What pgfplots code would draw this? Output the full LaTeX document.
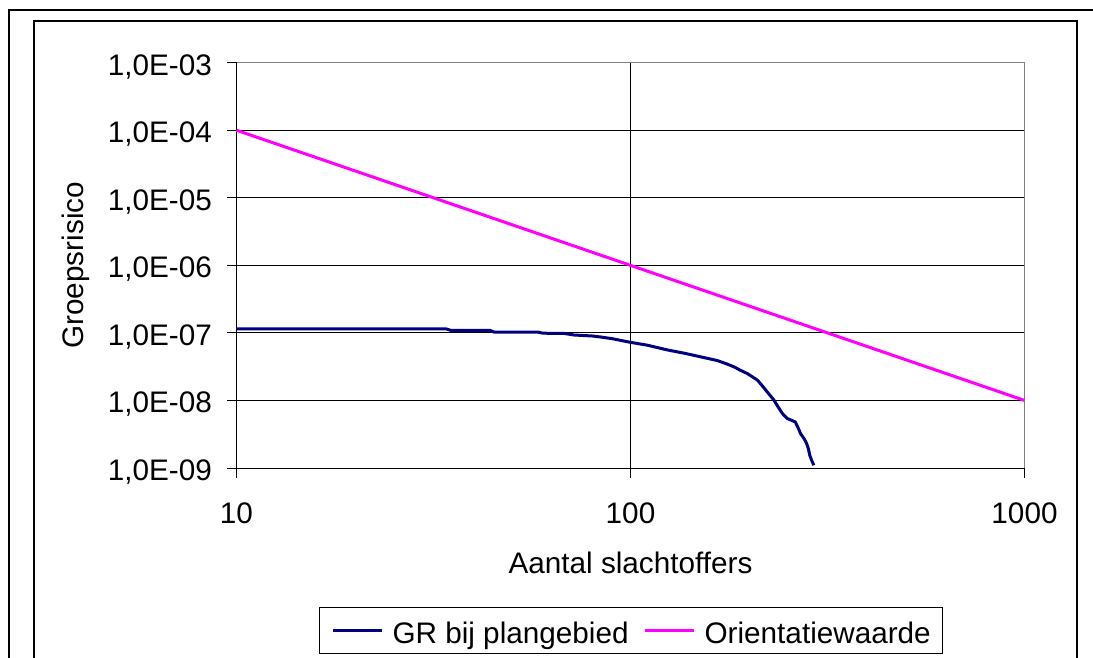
\documentclass[border=0pt]{standalone}
\usepackage{fontspec}
\setmainfont{Liberation Sans}
\usepackage{pgfplots}
\pgfplotsset{compat=1.18}
\definecolor{navyline}{HTML}{000080}
\definecolor{magline}{HTML}{FF00FF}
\definecolor{framegray}{HTML}{808080}
\newcommand{\fs}{\fontsize{29.7}{35}\selectfont}
\begin{document}
\begin{tikzpicture}
\path[use as bounding box, clip] (0pt,0pt) rectangle (1093pt,658pt);
\fill[white] (0pt,0pt) rectangle (1093pt,658pt);
\draw[line width=2pt] (9pt,-20pt) -- (9pt,648pt) -- (1150pt,648pt);
\draw[line width=2pt] (34pt,-20pt) -- (34pt,637pt) -- (1077pt,637pt) -- (1077pt,-20pt);
\begin{axis}[
  at={(236.5pt,190pt)}, anchor=south west,
  scale only axis, width=788pt, height=405.3pt,
  xmode=log, ymode=log,
  xmin=10, xmax=1000, ymin=1e-9, ymax=1e-3,
  xtick={10,100,1000}, xticklabels={10,100,1000},
  ytick={1e-9,1e-8,1e-7,1e-6,1e-5,1e-4,1e-3},
  yticklabels={{1,0E-09},{1,0E-08},{1,0E-07},{1,0E-06},{1,0E-05},{1,0E-04},{1,0E-03}},
  xminorticks=false, yminorticks=false,
  grid=major, major grid style={black, line width=1pt},
  axis line style={draw=none},
  tick style={black, line width=1pt},
  tick align=inside, major tick length=-10pt,
  xtick pos=bottom, ytick pos=left,
  xticklabel style={anchor=base, inner sep=0pt, yshift=-55pt, font=\fs},
  yticklabel style={anchor=base east, inner sep=0pt, xshift=-24.5pt, yshift=-12.3pt, font=\fs},
  xlabel={Aantal slachtoffers}, ylabel={Groepsrisico},
  xlabel style={at={(axis description cs:0.5,-0.2591)}, anchor=base, inner sep=0pt, font=\fs},
  ylabel style={at={(axis description cs:-0.2037,0.5)}, anchor=center, inner sep=0pt, font=\fs},
  clip=false,
  legend columns=2,
  legend cell align=left,
  legend image code/.code={\draw[#1] (0pt,0pt) -- (49pt,0pt);},
  legend style={at={(axis description cs:0.1047,-0.343)}, anchor=north west,
    draw=black, line width=1pt, fill=white, inner xsep=12pt, inner ysep=6.5pt,
    font=\fs, nodes={inner sep=0pt, text height=29pt, text depth=4pt},
    /tikz/every odd column/.append style={column sep=9pt},
    /tikz/every even column/.append style={column sep=15pt}},
]
\draw[framegray, line width=1pt] (rel axis cs:0,1) -- (rel axis cs:1,1) -- (rel axis cs:1,0);
\draw[black, line width=1pt] (rel axis cs:0,1) -- (rel axis cs:0,0) -- (rel axis cs:1,0);
\addplot[navyline, line width=3pt, line join=round] coordinates {
(10,1.15e-7) (34,1.15e-7) (35,1.09e-7) (44,1.09e-7) (45,1.03e-7) (58,1.03e-7)
(60,9.9e-8) (68,9.8e-8) (72,9.3e-8) (80,9.0e-8) (84,8.7e-8) (90,8.2e-8)
(95,7.7e-8) (100,7.25e-8) (110,6.6e-8) (124,5.6e-8) (137,5.0e-8) (150,4.45e-8)
(166,3.9e-8) (175,3.5e-8) (183,3.15e-8) (190,2.8e-8) (198,2.5e-8) (210,2.0e-8)
(216,1.65e-8) (222,1.35e-8) (231,1.02e-8) (237,8e-9) (243,6.4e-9) (250,5.4e-9)
(256,5.1e-9) (262,4.8e-9) (266,4.0e-9) (270,3.25e-9) (276,2.7e-9) (280,2.3e-9)
(283,1.9e-9) (285,1.55e-9) (289,1.25e-9) (292,1.1e-9)
};
\addlegendentry{GR bij plangebied}
\addplot[magline, line width=3pt] coordinates {
(10,1e-4) (100,1e-6) (1000,1e-8)
};
\addlegendentry{Orientatiewaarde}
\end{axis}
\end{tikzpicture}
\end{document}
